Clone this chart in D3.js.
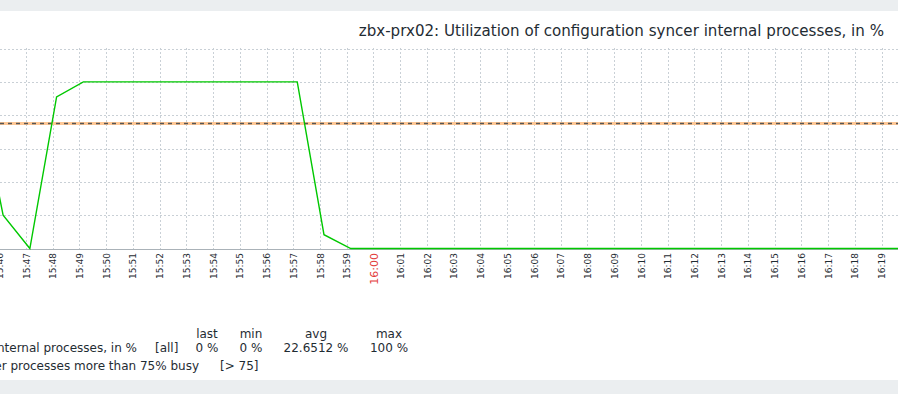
<!DOCTYPE html>
<html>
<head>
  <meta charset="UTF-8">
  <title>zbx-prx02 config syncer</title>
  <script src="https://d3js.org/d3.v7.min.js"></script>
  <style>
    body { margin: 0; background: #fff; }
    svg { display: block; font-family: "DejaVu Sans", sans-serif; }
  </style>
</head>
<body>
  <div id="chart"></div>

  <script>
    // data (one sample a minute, ~:09 s)
    const sampleTimes = [
      "15:45:09", "15:46:09", "15:47:09", "15:48:09", "15:49:09", "15:50:09",
      "15:51:09", "15:52:09", "15:53:09", "15:54:09", "15:55:09", "15:56:09",
      "15:57:09", "15:58:09", "15:59:09", "16:00:09", "16:01:09", "16:02:09",
      "16:03:09", "16:04:09", "16:05:09", "16:06:09", "16:07:09", "16:08:09",
      "16:09:09", "16:10:09", "16:11:09", "16:12:09", "16:13:09", "16:14:09",
      "16:15:09", "16:16:09", "16:17:09", "16:18:09", "16:19:09", "16:20:09"
    ];
    const sampleValues = [
      100, 20, 0, 91, 100, 100,
      100, 100, 100, 100, 100, 100,
      100, 8.3, 0, 0, 0, 0,
      0, 0, 0, 0, 0, 0,
      0, 0, 0, 0, 0, 0,
      0, 0, 0, 0, 0, 0
    ];
    const tickLabels = [
      "15:46", "15:47", "15:48", "15:49", "15:50", "15:51", "15:52", "15:53", "15:54",
      "15:55", "15:56", "15:57", "15:58", "15:59", "16:00", "16:01", "16:02", "16:03",
      "16:04", "16:05", "16:06", "16:07", "16:08", "16:09", "16:10", "16:11", "16:12",
      "16:13", "16:14", "16:15", "16:16", "16:17", "16:18", "16:19"
    ];
    const gridMinutes = tickLabels.concat(["16:20"]);
    const yGrid = [20, 40, 60, 80, 100, 120];
    const threshold = 75;
    const viewWindow = ["15:46:02", "16:19:37"];

    const title = "zbx-prx02: Utilization of configuration syncer internal processes, in %";
    const legendHeads = ["last", "min", "avg", "max"];
    const legendStats = ["0 %", "0 %", "22.6512 %", "100 %"];

    const W = 898, H = 394;
    const parse = d3.timeParse("%H:%M:%S");
    const parseMin = d3.timeParse("%H:%M");

    const x = d3.scaleTime()
      .domain(viewWindow.map(parse))
      .range([0, W]);
    const y = d3.scaleLinear()
      .domain([0, 120])
      .range([248.5, 48.5]);

    const svg = d3.select("#chart").append("svg")
      .attr("width", W)
      .attr("height", H);

    // grey bands top and bottom
    svg.append("rect").attr("x", 0).attr("y", 0).attr("width", W).attr("height", 11).attr("fill", "#ebeef0");
    svg.append("rect").attr("x", 0).attr("y", 380).attr("width", W).attr("height", 14).attr("fill", "#ebeef0");

    svg.append("text")
      .attr("x", 884).attr("y", 36)
      .attr("text-anchor", "end")
      .attr("font-size", 15.1)
      .attr("fill", "#1f2c33")
      .text(title);

    // grid
    const grid = svg.append("g")
      .attr("stroke", "#c9d0d6")
      .attr("stroke-dasharray", "2,2")
      .attr("shape-rendering", "crispEdges");

    grid.selectAll(".hg").data(yGrid).enter().append("line")
      .attr("x1", 0).attr("x2", W)
      .attr("y1", d => Math.round(y(d)) + 0.5)
      .attr("y2", d => Math.round(y(d)) + 0.5);

    grid.selectAll(".vg").data(gridMinutes).enter().append("line")
      .attr("x1", d => Math.round(x(parseMin(d))) + 0.5)
      .attr("x2", d => Math.round(x(parseMin(d))) + 0.5)
      .attr("y1", 48).attr("y2", 249);

    // base axis line
    svg.append("line")
      .attr("x1", 0).attr("x2", W)
      .attr("y1", 249.5).attr("y2", 249.5)
      .attr("stroke", "#aab2b8");

    // threshold (trigger) line
    svg.append("line")
      .attr("x1", 0).attr("x2", W)
      .attr("y1", y(threshold)).attr("y2", y(threshold))
      .attr("stroke", "#ffc896").attr("stroke-width", 3);
    svg.append("line")
      .attr("x1", 0).attr("x2", W)
      .attr("y1", y(threshold)).attr("y2", y(threshold))
      .attr("stroke", "#555").attr("stroke-width", 1.5)
      .attr("stroke-dasharray", "4,4");

    // data line
    const points = sampleTimes.map((t, i) => [parse(t), sampleValues[i]]);
    svg.append("path")
      .datum(points)
      .attr("fill", "none")
      .attr("stroke", "#00c800")
      .attr("stroke-width", 1.4)
      .attr("d", d3.line().x(d => x(d[0])).y(d => y(d[1])));

    // x tick labels
    svg.selectAll(".tick").data(tickLabels).enter().append("text")
      .attr("transform", d => `translate(${x(parseMin(d)) + 0.5},253) rotate(-90)`)
      .attr("dy", "0.35em")
      .attr("text-anchor", "end")
      .attr("font-size", d => d === "16:00" ? 11 : 9)
      .attr("fill", d => d === "16:00" ? "#e33d3d" : "#1f2c33")
      .text(d => d);

    // legend
    const headX = [207, 251, 316, 389];
    const leg = svg.append("g").attr("fill", "#1f2c33").attr("font-size", 12);
    leg.selectAll(".hd").data(legendHeads).enter().append("text")
      .attr("x", (d, i) => headX[i]).attr("y", 338)
      .attr("text-anchor", "middle")
      .text(d => d);
    leg.selectAll(".st").data(legendStats).enter().append("text")
      .attr("x", (d, i) => headX[i]).attr("y", 352)
      .attr("text-anchor", "middle")
      .text(d => d);
    leg.append("text").attr("x", 137).attr("y", 352).attr("text-anchor", "end")
      .text("Utilization of configuration syncer internal processes, in %");
    leg.append("text").attr("x", 155).attr("y", 352).text("[all]");
    leg.append("text").attr("x", 199).attr("y", 370).attr("text-anchor", "end")
      .text("Trigger: Utilization of configuration syncer processes more than 75% busy");
    leg.append("text").attr("x", 220).attr("y", 370).text("[> 75]");
  </script>
</body>
</html>
